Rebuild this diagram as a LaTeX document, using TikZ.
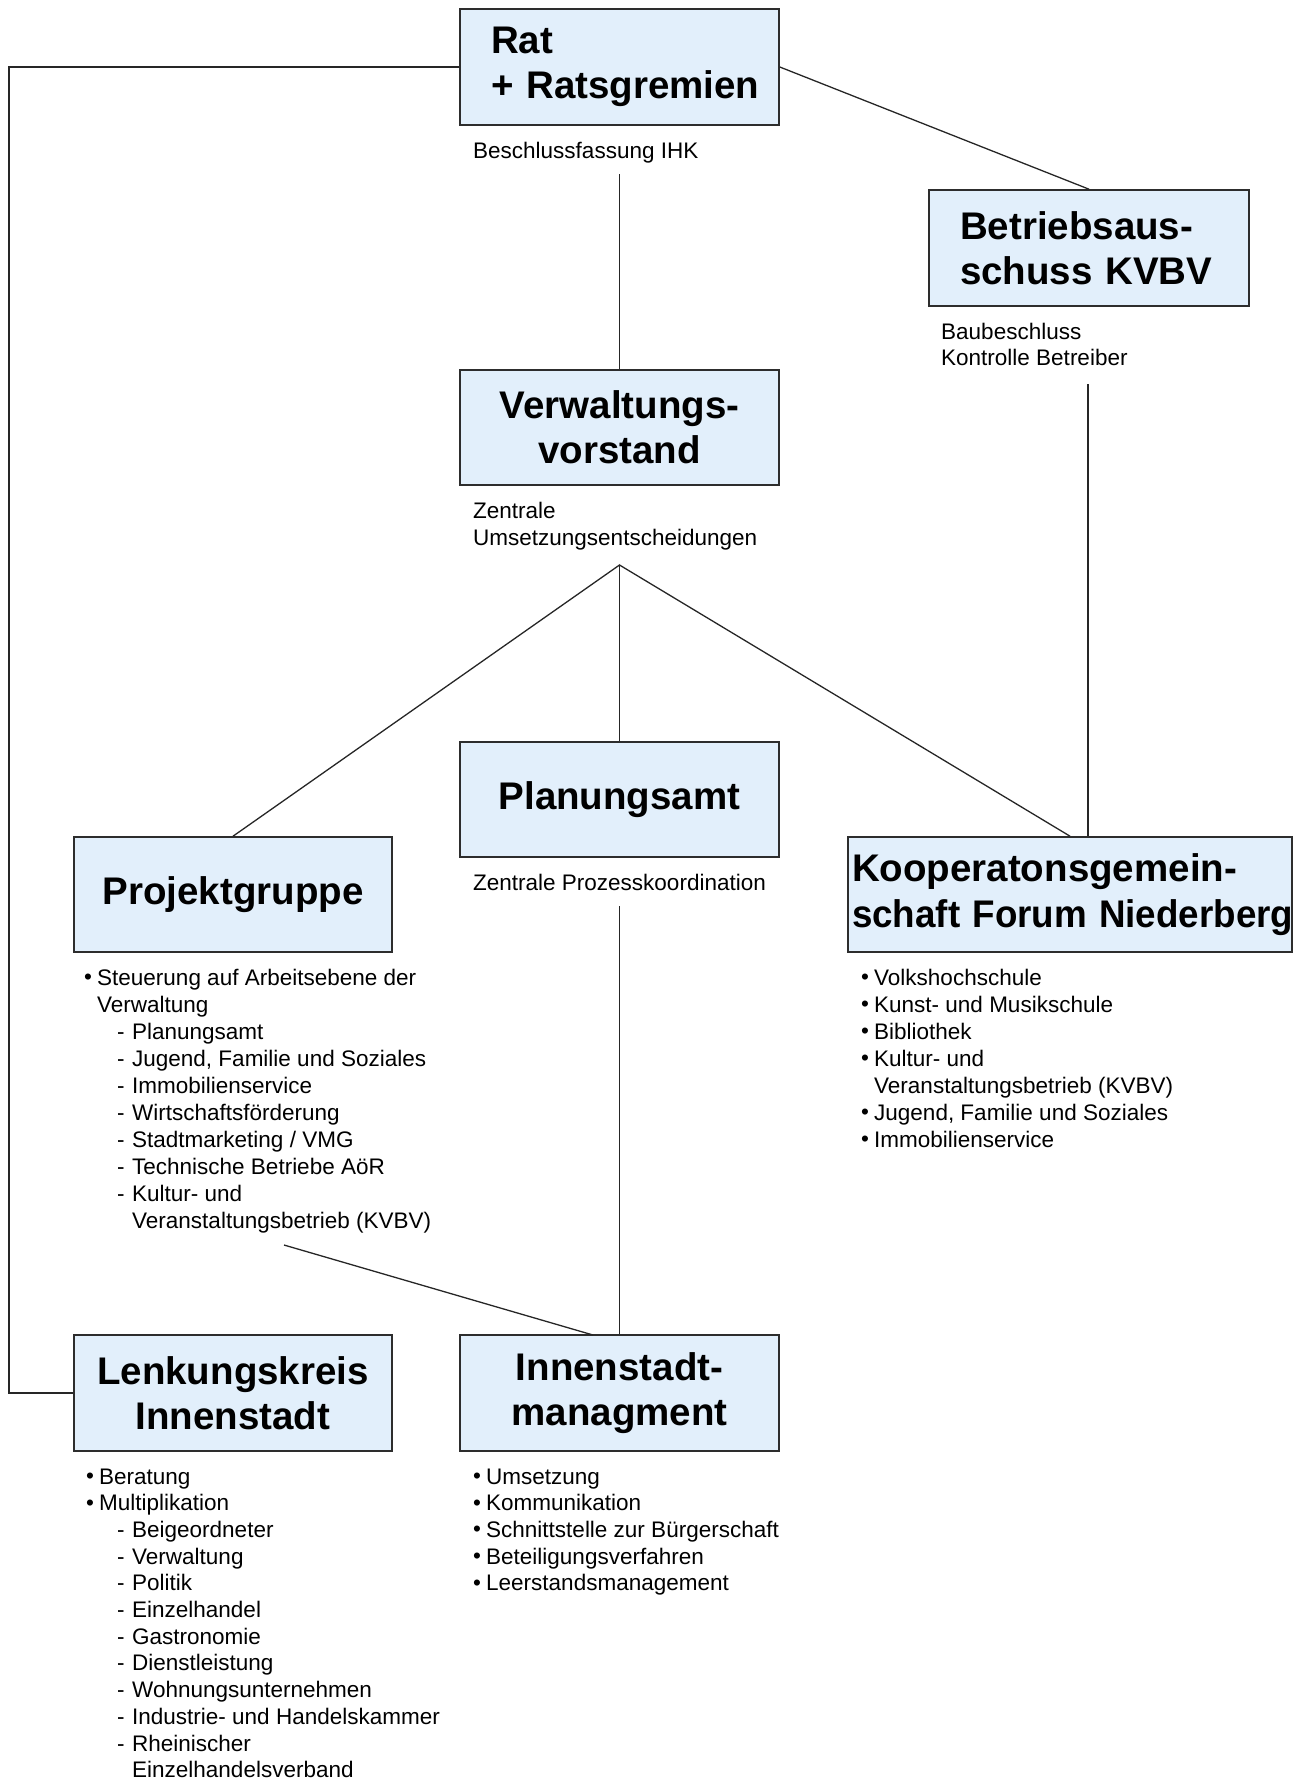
\documentclass[tikz,border=0pt]{standalone}
\usepackage{fontspec}
\usepackage{graphicx}
\setmainfont{Liberation Sans}
\definecolor{boxblue}{RGB}{226,239,251}
\definecolor{edge}{RGB}{45,45,45}
\newcommand{\ttlfont}{\fontsize{38.5}{45.4}\selectfont\bfseries}
\newcommand{\bodyfont}{\fontsize{22.5}{26.8}\selectfont}
\newcommand{\bu}{\makebox[13pt][l]{\raisebox{0.5pt}{•}}}
\newcommand{\da}{\makebox[15pt][l]{-}}
\begin{document}
\begin{tikzpicture}[x=1pt,y=-1pt,
  box/.style={draw=edge, line width=1.6pt, fill=boxblue, inner sep=0pt, font=\ttlfont, align=center},
  lbl/.style={anchor=base west, inner sep=0pt, font=\bodyfont},
  conn/.style={draw=black!85, line width=1.3pt}]
\useasboundingbox (0,0) rectangle (1301,1782);

% boxes
\node[box, minimum width=319pt, minimum height=116pt, text width=257pt, align=left] (rat) at (619.5,67) {Rat\\\mbox{+ Ratsgremien}};
\node[box, minimum width=320pt, minimum height=116pt, text width=258pt, align=left] (betr) at (1089,248) {\mbox{Betriebsaus-}\\\mbox{schuss KVBV}};
\node[box, minimum width=319pt, minimum height=115pt] (vv) at (619.5,427.5) {Verwaltungs-\\vorstand};
\node[box, minimum width=319pt, minimum height=115pt] (pa) at (619.5,799.5) {Planungsamt};
\node[box, minimum width=318pt, minimum height=115pt] (pg) at (233,894.5) {Projektgruppe};
\node[box, minimum width=444pt, minimum height=115pt, text width=436pt, align=left] (koop) at (1070,894.5) {\mbox{Kooperatonsgemein-}\\\scalebox{0.955}[1]{schaft Forum Niederberg}};
\node[box, minimum width=318pt, minimum height=116pt] (lenk) at (233,1393) {Lenkungskreis\\Innenstadt};
\node[box, minimum width=319pt, minimum height=116pt] (inn) at (619.5,1393) {Innenstadt-\\managment};

% labels under boxes
\node[lbl] (l1) at (473,158) {Beschlussfassung IHK};
\node[lbl] (l2) at (941,339) {Baubeschluss};
\node[lbl] (l3) at (941,365) {Kontrolle Betreiber};
\node[lbl] (l4) at (473,518) {Zentrale};
\node[lbl] (l5) at (473,545) {Umsetzungsentscheidungen};
\node[lbl] (l6) at (473,890) {Zentrale Prozesskoordination};

% connector points
\coordinate (cornerL) at (9,1393);
\coordinate (ratlow) at (619.5,174);
\coordinate (betrlow) at (1088,384);
\coordinate (apex) at (619.5,565);
\coordinate (palow) at (619.5,906);
\coordinate (pglow) at (284,1245);
\coordinate (innin) at (593,1335);

% connectors
\draw[conn] (rat.west) -| (cornerL) -- (lenk.west);
\draw[conn] (rat.east) -- (betr.north);
\draw[conn] (ratlow) -- (vv.north);
\draw[conn] (betrlow) -- (betrlow |- koop.north);
\draw[conn] (pg.north) -- (apex) -- (koop.north);
\draw[conn] (apex) -- (pa.north);
\draw[conn] (palow) -- (inn.north);
\draw[conn] (pglow) -- (innin);

% Projektgruppe list
\node[lbl] (p1) at (84,985) {\bu Steuerung auf Arbeitsebene der};
\node[lbl] (p2) at (97,1012) {Verwaltung};
\node[lbl] (p3) at (117,1039) {\da Planungsamt};
\node[lbl] (p4) at (117,1066) {\da Jugend, Familie und Soziales};
\node[lbl] (p5) at (117,1093) {\da Immobilienservice};
\node[lbl] (p6) at (117,1120) {\da Wirtschaftsförderung};
\node[lbl] (p7) at (117,1147) {\da Stadtmarketing / VMG};
\node[lbl] (p8) at (117,1174) {\da Technische Betriebe AöR};
\node[lbl] (p9) at (117,1201) {\da Kultur- und};
\node[lbl] (p10) at (132,1228) {Veranstaltungsbetrieb (KVBV)};

% Kooperation list
\node[lbl] (k1) at (861,985) {\bu Volkshochschule};
\node[lbl] (k2) at (861,1012) {\bu Kunst- und Musikschule};
\node[lbl] (k3) at (861,1039) {\bu Bibliothek};
\node[lbl] (k4) at (861,1066) {\bu Kultur- und};
\node[lbl] (k5) at (874,1093) {Veranstaltungsbetrieb (KVBV)};
\node[lbl] (k6) at (861,1120) {\bu Jugend, Familie und Soziales};
\node[lbl] (k7) at (861,1147) {\bu Immobilienservice};

% Lenkungskreis list
\node[lbl] (z1) at (86,1484) {\bu Beratung};
\node[lbl] (z2) at (86,1510.7) {\bu Multiplikation};
\node[lbl] (z3) at (117,1537.4) {\da Beigeordneter};
\node[lbl] (z4) at (117,1564.1) {\da Verwaltung};
\node[lbl] (z5) at (117,1590.8) {\da Politik};
\node[lbl] (z6) at (117,1617.5) {\da Einzelhandel};
\node[lbl] (z7) at (117,1644.2) {\da Gastronomie};
\node[lbl] (z8) at (117,1670.9) {\da Dienstleistung};
\node[lbl] (z9) at (117,1697.6) {\da Wohnungsunternehmen};
\node[lbl] (z10) at (117,1724.3) {\da Industrie- und Handelskammer};
\node[lbl] (z11) at (117,1751) {\da Rheinischer};
\node[lbl] (z12) at (132,1777.7) {Einzelhandelsverband};

% Innenstadtmanagement list
\node[lbl] (i1) at (473,1484) {\bu Umsetzung};
\node[lbl] (i2) at (473,1510.7) {\bu Kommunikation};
\node[lbl] (i3) at (473,1537.4) {\bu Schnittstelle zur Bürgerschaft};
\node[lbl] (i4) at (473,1564.1) {\bu Beteiligungsverfahren};
\node[lbl] (i5) at (473,1590.8) {\bu Leerstandsmanagement};
\end{tikzpicture}
\end{document}
